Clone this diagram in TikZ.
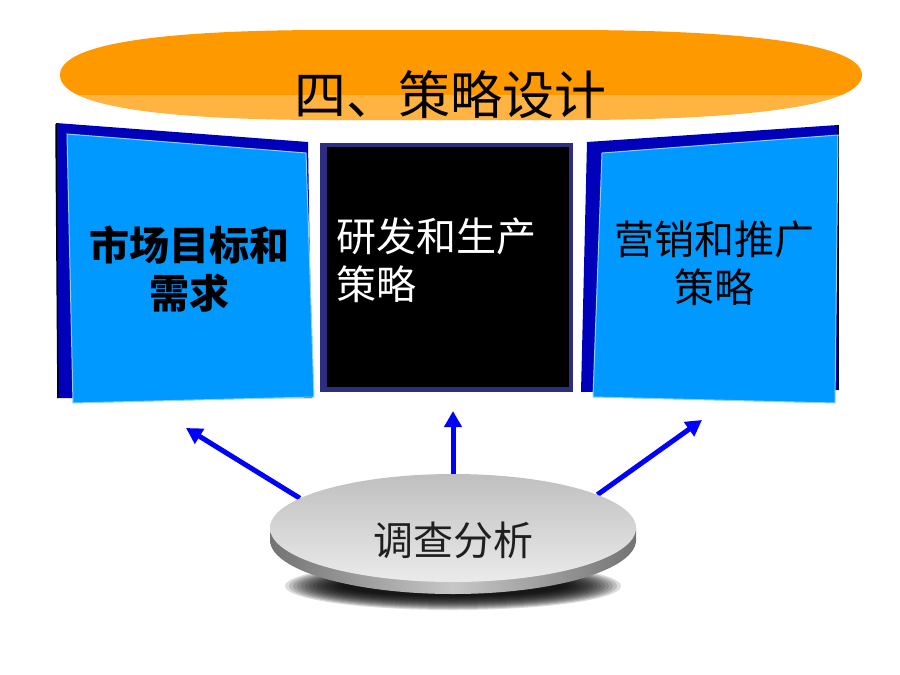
\documentclass[tikz,border=0pt]{standalone}
\usepackage{fontspec}
\newfontfamily\cjk{Noto Sans CJK SC}
\usetikzlibrary{arrows.meta,shapes.geometric,backgrounds}
\definecolor{bannerTop}{HTML}{FF9900}
\definecolor{bannerBot}{HTML}{FFB340}
\definecolor{panelBack}{HTML}{0000BB}
\definecolor{panelFront}{HTML}{0099FF}
\definecolor{navyBorder}{HTML}{2E2E80}
\definecolor{arrowBlue}{HTML}{0000FF}
\tikzset{
  bigtext/.style={font=\cjk\fontsize{40}{48}\selectfont, inner sep=0pt},
  arr/.style={draw=arrowBlue, line width=5pt, -{Triangle[length=16pt,width=17pt]}},
  frontpanel/.style={fill=panelFront, draw=white!55!panelFront, line width=1pt},
}
\begin{document}
\begin{tikzpicture}[x=1pt,y=-1pt]
\begin{pgfonlayer}{background}
\fill[white] (0,0) rectangle (900,675);
\end{pgfonlayer}
\useasboundingbox (0,0) rectangle (900,675);

% ---- banner ----
\begin{scope}
\clip (60,75) .. controls (60,38) and (200,30) .. (330,30) -- (570,30)
      .. controls (700,30) and (862,38) .. (862,75)
      .. controls (862,112) and (700,120) .. (570,120) -- (330,120)
      .. controls (200,120) and (60,112) .. (60,75) -- cycle;
\fill[bannerTop] (50,25) rectangle (870,95);
\fill[bannerBot] (50,95) rectangle (870,125);
\end{scope}
\node[font=\cjk\fontsize{52}{52}\selectfont, inner sep=0pt] (title) at (450,95) {四、策略设计};

% ---- left panel ----
\fill[panelBack] (56,123) -- (308,142) -- (312,398) -- (58,398) -- cycle;
\draw[black, line width=1.5pt] (56,124) -- (58,398);
\filldraw[frontpanel] (67,134) -- (306,153) -- (314,397) -- (73,403) -- cycle;
\node[bigtext, font=\cjk\bfseries\fontsize{40}{48}\selectfont, align=center] (market) at (189,269) {市场目标和\\需求};

% ---- centre panel ----
\fill[navyBorder] (320,143) rectangle (573,392);
\fill[black] (327,147) rectangle (569,387);
\node[bigtext, text=white, align=left, anchor=west] (rd) at (336,260) {研发和生产\\策略};

% ---- right panel ----
\fill[panelBack] (587,142) -- (838,125) -- (838,390) -- (581,392) -- cycle;
\draw[black, line width=1.5pt] (838,125) -- (838,390);
\filldraw[frontpanel] (602,153) -- (838,135) -- (835,403) -- (593,397) -- cycle;
\node[bigtext, align=center] (sales) at (714,263) {营销和推广\\策略};

% ---- disk ----
\foreach \i in {0,...,14}
  \fill[black, opacity=0.14] (453,586) ellipse ({168-4*\i} and {24-\i});
\shade[left color=black!55, right color=black!55, middle color=black!22]
  (453,540) ellipse (183 and 54);
\shade[left color=black!55, right color=black!55, middle color=black!22]
  (270,528) rectangle (636,540);
\node[ellipse, minimum width=366pt, minimum height=108pt, inner sep=0pt,
      top color=black!25, bottom color=black!8] (disk) at (453,528) {};
\node[bigtext, text=black!88] (survey) at (453,540) {调查分析};

% ---- arrows ----
\coordinate (tipL) at (186,428);
\coordinate (tipM) at (453,411);
\coordinate (tipR) at (702,420);
\begin{pgfonlayer}{background}
\draw[arr] (disk.169) -- (tipL);
\draw[arr] (disk.north) -- (tipM);
\draw[arr] (disk.13) -- (tipR);
\end{pgfonlayer}
\end{tikzpicture}
\end{document}
